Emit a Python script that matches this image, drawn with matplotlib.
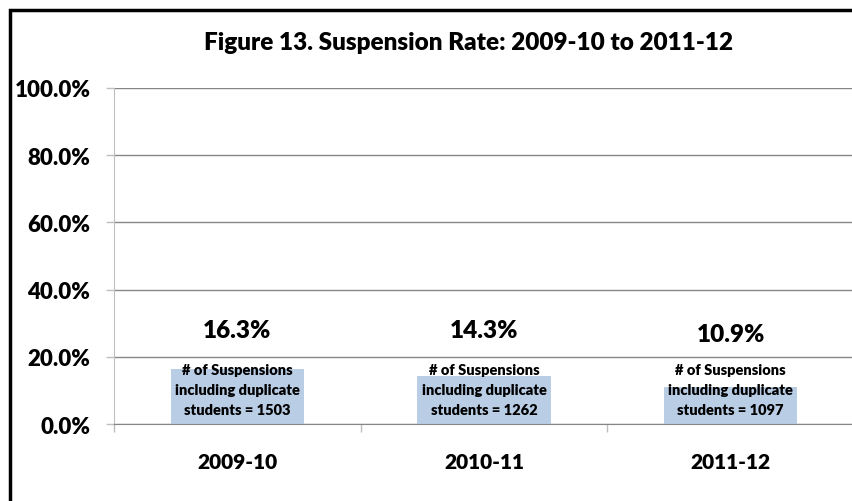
import matplotlib.pyplot as plt
from matplotlib.patches import Rectangle
from matplotlib.ticker import FuncFormatter, FixedLocator

# chart data
years = ['2009-10', '2010-11', '2011-12']
rates = [16.3, 14.3, 10.9]
suspensions = [1503, 1262, 1097]

# label heights (percent units) as placed in the original
label_y = [28.0, 28.0, 26.8]

BAR_COLOR = '#B9CDE5'
GRID_COLOR = '#868686'
AXIS_COLOR = '#BFBFBF'
WEIGHT = 'heavy'

plt.rcParams['font.family'] = ['Lato', 'DejaVu Sans']
plt.rcParams['font.weight'] = WEIGHT

W, H = 853, 502
fig = plt.figure(figsize=(W / 100, H / 100), dpi=100)
ax = fig.add_axes([114 / W, 1 - 425 / H, 740 / W, 336 / H])

x = list(range(len(years)))
ax.bar(x, rates, width=0.54, color=BAR_COLOR, zorder=2)

ax.set_xlim(-0.5, len(years) - 0.5)
ax.set_ylim(0, 100)
ax.yaxis.set_major_locator(FixedLocator([0, 20, 40, 60, 80, 100]))
ax.yaxis.set_major_formatter(FuncFormatter(lambda v, p: '{:.1f}%'.format(v)))
ax.yaxis.grid(True, color=GRID_COLOR, linewidth=1, zorder=0)
ax.set_axisbelow(True)

ax.set_xticks(x)
ax.set_xticklabels(years)
ax.set_xticks([i - 0.5 for i in range(len(years) + 1)], minor=True)
ax.tick_params(axis='x', which='major', length=0, pad=20, labelsize=15)
ax.tick_params(axis='x', which='minor', length=6, color=AXIS_COLOR, width=1)
ax.tick_params(axis='y', length=6, color=AXIS_COLOR, width=1, pad=11, labelsize=16)

for s in ['top', 'right']:
    ax.spines[s].set_visible(False)
ax.spines['left'].set_color(AXIS_COLOR)
ax.spines['bottom'].set_color(GRID_COLOR)

for i, (r, n) in enumerate(zip(rates, suspensions)):
    ax.text(i, label_y[i], '{:.1f}%'.format(r), ha='center', va='center',
            fontsize=17.5, fontweight=WEIGHT, zorder=3)
    ax.text(i, 10.2, '# of Suspensions\nincluding duplicate\nstudents = {}'.format(n),
            ha='center', va='center', fontsize=10.5, fontweight=WEIGHT,
            linespacing=1.62, zorder=3)

fig.text(469 / W, 1 - 43 / H, 'Figure 13. Suspension Rate: 2009-10 to 2011-12',
         ha='center', va='center', fontsize=17.5, fontweight=WEIGHT)

# outer chart frame (cropped at right and bottom)
fig.patches.append(Rectangle((10 / W, -0.1), 1.2, 1 - 11 / H + 0.1,
                             transform=fig.transFigure, fill=False,
                             edgecolor='black', linewidth=2.5))

fig.savefig('out.png', dpi=100)
